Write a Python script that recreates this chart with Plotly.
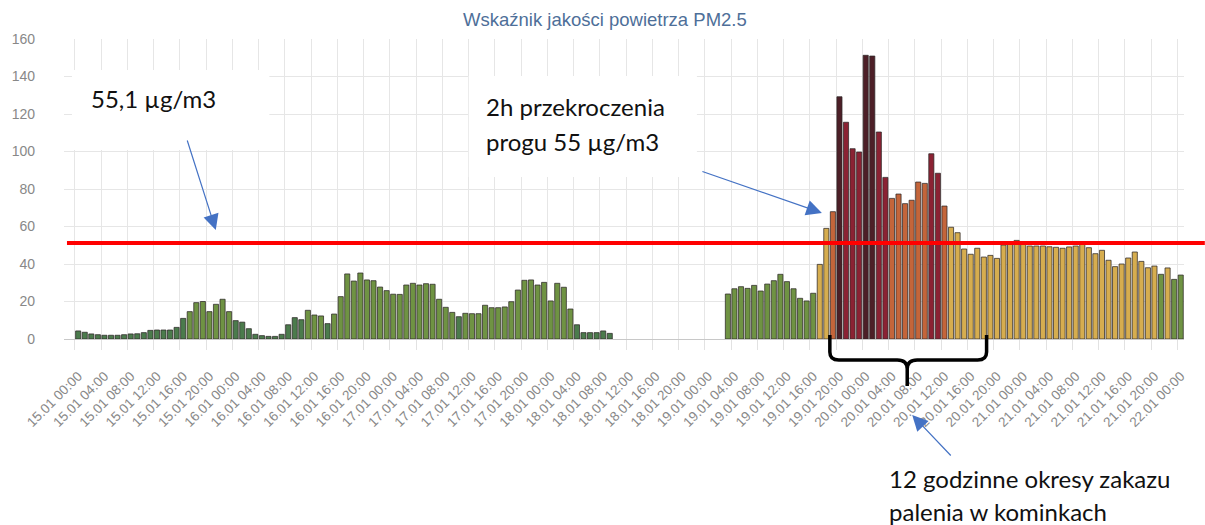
import plotly.graph_objects as go

# ---------------- data ----------------
hours = list(range(169))  # hourly index from 15.01 00:00 to 22.01 00:00
pm25 = [
    4.3, 3.6, 2.7, 2.3, 2.0, 2.0, 2.0, 2.3, 2.7, 2.8, 3.4, 4.6, 4.8, 4.8, 4.8, 6.2,
    11.0, 14.6, 19.4, 20.0, 14.6, 18.5, 21.2, 14.6, 9.8, 9.0, 5.5, 2.5, 1.8, 1.4, 1.4, 2.5,
    7.6, 11.4, 10.3, 15.3, 12.8, 12.3, 8.2, 13.3, 22.6, 34.7, 30.9, 35.2, 31.5, 31.1, 27.7, 25.8,
    23.9, 23.8, 28.8, 29.7, 28.8, 29.5, 29.2, 21.2, 16.9, 14.2, 11.9, 13.7, 13.5, 13.5, 18.0, 16.7,
    16.7, 17.1, 19.9, 26.1, 31.3, 31.5, 28.8, 30.2, 20.3, 29.7, 27.6, 16.0, 7.6, 3.4, 3.4, 3.4, 4.3, 3.0,
    None, None, None, None, None, None, None, None, None, None, None, None, None, None, None, None, None,
    24.0, 26.8, 27.9, 27.0, 28.6, 25.6, 29.3, 31.1, 34.5, 30.6, 26.8, 21.7, 20.3, 24.4,
    39.8, 59.0, 67.9, 129.2, 115.6, 101.5, 99.7, 151.3, 150.9, 110.4, 86.2, 75.0, 77.3, 72.2,
    74.0, 83.7, 83.0, 98.8, 88.4, 70.9, 59.6, 56.7,
    48.0, 45.2, 48.4, 43.7, 44.6, 43.0, 50.1, 51.9, 52.6, 50.8, 49.6, 49.6, 49.6, 49.2, 48.9,
    48.4, 49.1, 49.6, 51.4, 48.7, 45.5, 47.3, 42.0, 38.6, 40.0, 43.2, 46.4, 41.4, 38.0, 38.9,
    34.5, 37.9, 31.8, 34.1,
]
days = ["15.01", "16.01", "17.01", "18.01", "19.01", "20.01", "21.01", "22.01"]
tick_hours = list(range(0, 169, 4))
tick_text = [f"{days[h // 24]} {h % 24:02d}:00" for h in tick_hours]

# index class limits and colours (air quality index)
limits = [12, 36, 60, 84, 120]
class_colors = ["#4b7b4c", "#6f9343", "#d6ad4f", "#c4653a", "#8b2233", "#4d1f27"]
threshold_line = 51.2  # drawn position of the red reference line

title = "Wskaźnik jakości powietrza PM2.5"


def color_for(v):
    if v is None:
        return "rgba(0,0,0,0)"
    for lim, c in zip(limits, class_colors):
        if v <= lim:
            return c
    return class_colors[-1]


bar_colors = [color_for(v) for v in pm25]

# ---------------- layout geometry (pixels) ----------------
W, H = 1205, 525
PL, PR, PT, PB = 55, 1184, 39, 339
Y_MAX = 160


def px(x):
    return (x - PL) / (PR - PL)


def py(y):
    return (PB - y) / (PB - PT)


fig = go.Figure()
fig.add_trace(go.Bar(
    x=hours, y=pm25,
    marker=dict(color=bar_colors, line=dict(color="rgba(45,40,40,0.75)", width=1)),
    hoverinfo="x+y",
))

shapes = []
# white label boxes
shapes.append(dict(type="rect", xref="paper", yref="paper",
                   x0=px(63), x1=px(262), y0=py(150), y1=py(70),
                   fillcolor="white", line=dict(width=0), layer="above"))
shapes.append(dict(type="rect", xref="paper", yref="paper",
                   x0=px(463), x1=px(693), y0=py(177), y1=py(76),
                   fillcolor="white", line=dict(width=0), layer="above"))
# red reference line
shapes.append(dict(type="line", xref="paper", yref="paper",
                   x0=px(58), x1=px(1205), y0=threshold_line / Y_MAX, y1=threshold_line / Y_MAX,
                   line=dict(color="#ff0000", width=4), layer="above"))


# curly bracket under the 12h period
def P(x, y):
    return f"{px(x):.5f},{py(y):.5f}"


brace = (
    f"M{P(827,335)} L{P(827,352)} Q{P(827,360)} {P(836,360)} L{P(895,360)} "
    f"Q{P(905,360)} {P(905,369)} L{P(905,386)} "
    f"M{P(905,369)} Q{P(905,360)} {P(915,360)} L{P(976,360)} "
    f"Q{P(985,360)} {P(985,352)} L{P(985,335)}"
)
shapes.append(dict(type="path", xref="paper", yref="paper", path=brace,
                   line=dict(color="black", width=3.5), layer="above"))

ann_font = dict(family="Lato, 'Open Sans', sans-serif", size=24, color="#111111")
annotations = [
    dict(text="55,1 µg/m3", x=px(80), y=py(98)),
    dict(text="2h przekroczenia", x=px(478), y=py(106)),
    dict(text="progu 55 µg/m3", x=px(478), y=py(141)),
    dict(text="12 godzinne okresy zakazu", x=px(885), y=py(478)),
    dict(text="palenia w kominkach", x=px(885), y=py(511)),
]
annotations = [dict(a, xref="paper", yref="paper", xanchor="left", yanchor="middle",
                    showarrow=False, font=ann_font) for a in annotations]

arrows = [((208, 230), (179, 139)), ((819, 213), (698, 171)), ((910, 415), (950, 457))]
for (tx, ty), (sx, sy) in arrows:
    annotations.append(dict(text="", xref="paper", yref="paper", x=px(tx), y=py(ty),
                            ax=sx - tx, ay=sy - ty, axref="pixel", ayref="pixel",
                            showarrow=True, arrowhead=2, arrowsize=2.6, arrowwidth=1.2,
                            arrowcolor="#4472c4"))

annotations.append(dict(text=title, xref="paper", yref="paper", x=px(600), y=py(19),
                        xanchor="center", yanchor="middle", showarrow=False,
                        font=dict(family="Liberation Sans, Arial, sans-serif", size=18.5,
                                  color="#4e6f99")))

fig.update_layout(
    width=W, height=H,
    margin=dict(l=PL, r=W - PR, t=PT, b=H - PB),
    plot_bgcolor="white", paper_bgcolor="white",
    showlegend=False, bargap=0.22,
    shapes=shapes, annotations=annotations,
    font=dict(family="Liberation Sans, Arial, sans-serif"),
)
fig.update_xaxes(
    range=[-2.16, 168.5],
    tickmode="array", tickvals=tick_hours, ticktext=tick_text,
    tickangle=-45, showgrid=False, zeroline=False,
    ticks="outside", ticklen=23, tickcolor="rgba(0,0,0,0)",
    tickfont=dict(size=13.5, color="#888888"),
    showline=False,
    minor=dict(tickmode="array", tickvals=[h - 0.5 for h in tick_hours],
               showgrid=True, gridcolor="#e6e6e6", gridwidth=1,
               ticks="outside", ticklen=10, tickcolor="#e2e2e2"),
)
fig.update_yaxes(
    range=[0, Y_MAX], tickvals=list(range(0, 161, 20)),
    showgrid=True, gridcolor="#e6e6e6", gridwidth=1,
    zeroline=True, zerolinecolor="#c8c8c8", zerolinewidth=1,
    tickfont=dict(size=14, color="#888888"),
    ticks="", ticklabelstandoff=28,
)

fig.write_html("out.html", config={"displayModeBar": False},
               post_script="document.body.style.margin='0';")
